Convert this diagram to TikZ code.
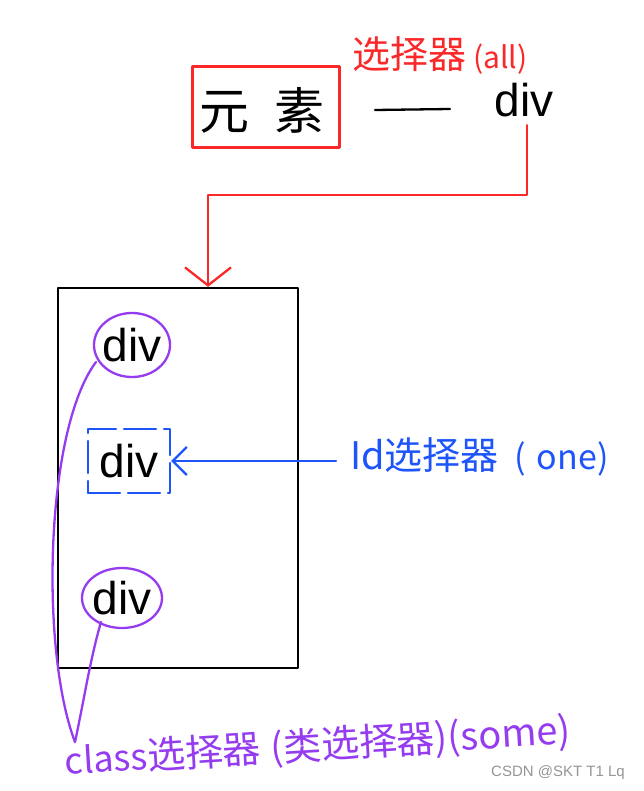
\documentclass[tikz,border=0pt]{standalone}
\usepackage{fontspec}
\setmainfont{Liberation Sans}
\newfontfamily\cjk{Noto Sans CJK SC}
\usetikzlibrary{arrows.meta}
\definecolor{hred}{RGB}{250,40,40}
\definecolor{hblue}{RGB}{30,85,250}
\definecolor{hpurple}{RGB}{150,60,240}
\definecolor{wm}{RGB}{150,150,150}
\tikzset{
  hand/.style={line width=2.3pt, line cap=round, line join=round},
  divtxt/.style={font=\fontsize{46}{50}\selectfont, text=black, inner sep=0pt},
  cjktxt/.style={font=\cjk\fontsize{38}{42}\selectfont, inner sep=0pt},
}
\begin{document}
\begin{tikzpicture}[x=1pt,y=-1pt]
\useasboundingbox (0,0) rectangle (643,791);
\fill[white] (0,0) rectangle (643,791);
% top row
\node[cjktxt, text=black, font=\cjk\fontsize{50}{54}\selectfont] (elem) at (262,110) {元\hspace{0.5em}素};
\node[draw=hred, hand, minimum width=147pt, minimum height=81pt] (elembox) at (266,107) {};
\node[divtxt] (topdiv) at (524,100) {div};
\node[cjktxt, text=hred] (alllbl) at (440,56) {选择器\,\fontsize{30}{34}\selectfont(all)};
\coordinate (dashL) at (375,110);
\coordinate (dashR) at (450,109);
\draw[hand] (dashL) -- (dashR);
% page box
\node[draw=black, hand, minimum width=240pt, minimum height=380pt] (page) at (178,478) {};
% red connector
\coordinate (bend) at (208,195);
\draw[hand, hred, -{Straight Barb[length=18pt,width=46pt,line width=2.3pt]}] (topdiv.south) ++(3,8) |- (bend) -- (bend |- page.north);
% divs
\node[divtxt] (d1) at (132,345) {div};
\draw[hand, hpurple] (d1) ellipse [x radius=38, y radius=32];
\coordinate (e1) at (96,362);
\node[divtxt, draw=hblue, hand, dash pattern=on 32pt off 8pt, minimum width=82pt, minimum height=64pt] (d2) at (129,461) {div};
\node[divtxt] (d3) at (122,598) {div};
\draw[hand, hpurple] (d3) ellipse [x radius=40, y radius=30];
\coordinate (e3) at (101,622);
% blue label and arrow
\node[cjktxt, text=hblue, anchor=west] (idlbl) at (350,457) {Id选择器\hspace{0.4em}\fontsize{34}{38}\selectfont(\,\,one)};
\draw[hand, hblue, -{Straight Barb[length=14pt,width=28pt,line width=2.3pt]}] (idlbl.west) ++(-14,4) -- (d2.east);
% purple connectors and label
\coordinate (apex) at (75,742);
\draw[hand, hpurple] (e1) .. controls (45,430) and (40,650) .. (apex);
\draw[hand, hpurple] (e3) .. controls (90,660) and (84,700) .. (apex);
\node[cjktxt, text=hpurple, rotate=3.5, anchor=south west] (classlbl) at (66,782) {\fontsize{36}{38}\selectfont class\cjk\fontsize{38}{42}\selectfont 选择器\hspace{0.25em}(类选择器)(some)};
% watermark
\node[font=\fontsize{15}{18}\selectfont, text=wm, inner sep=0pt] (wmk) at (558,773) {CSDN @SKT T1 Lq};
\end{tikzpicture}
\end{document}
